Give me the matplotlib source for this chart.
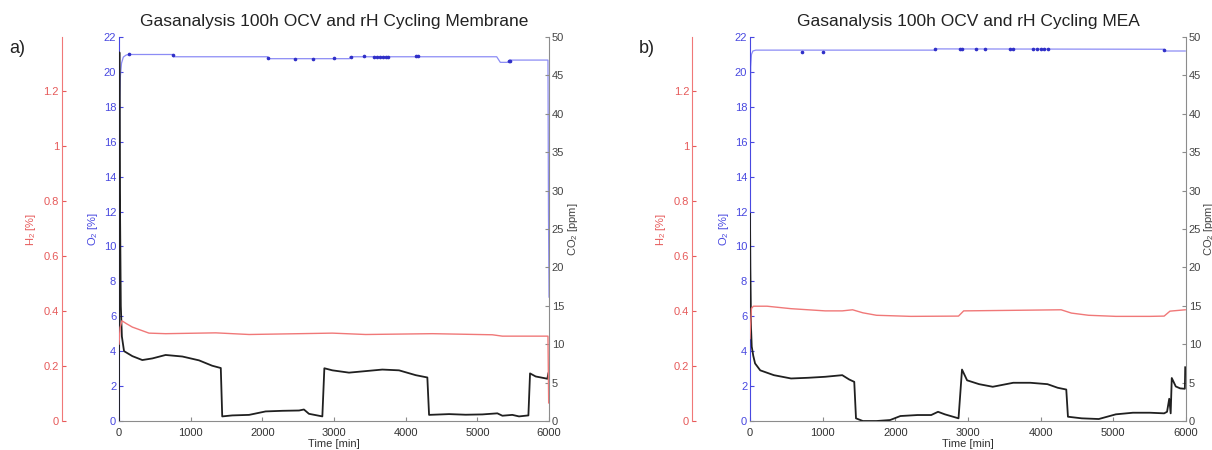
import numpy as np
import matplotlib
matplotlib.use('Agg')
import matplotlib.pyplot as plt

plt.rcParams['font.family'] = ['Liberation Sans', 'DejaVu Sans']
plt.rcParams['mathtext.default'] = 'regular'

# ---- panel a) membrane ----
a_title = 'Gasanalysis 100h OCV and rH Cycling Membrane'
a_o2_t = [0, 2, 5, 10, 20, 35, 60, 100, 140, 750, 760, 2075, 2085, 3215, 3225,
          5270, 5320, 5420, 5450, 5985, 5992, 6000]
a_o2_v = [0, 8, 15, 18.5, 19.8, 20.5, 20.85, 20.97, 21.0, 21.0, 20.87, 20.87, 20.76,
          20.76, 20.87, 20.87, 20.55, 20.55, 20.68, 20.68, 12, 7.1]
a_dot_t = [140, 760, 2085, 2450, 2700, 3000, 3230, 3420, 3560, 3600, 3640, 3680,
           3720, 3760, 4150, 4165, 5440, 5460]
a_dot_v = [21.0, 20.95, 20.8, 20.76, 20.76, 20.8, 20.87, 20.9, 20.87, 20.87, 20.87,
           20.87, 20.87, 20.87, 20.9, 20.9, 20.6, 20.6]
a_h2_t = [0, 15, 40, 100, 186, 418, 650, 1350, 1815, 2977, 3442, 4372, 5209, 5349,
          5985, 5995]
a_h2_v = [0.28, 0.34, 0.365, 0.355, 0.342, 0.320, 0.318, 0.321, 0.315, 0.320, 0.315,
          0.318, 0.314, 0.309, 0.309, 0.066]
a_co2_t = [0, 5, 12, 25, 40, 70, 186, 325, 465, 650, 884, 1116, 1300, 1420, 1440,
           1580, 1815, 2046, 2280, 2512, 2580, 2650, 2837, 2865, 2977, 3209, 3442,
           3674, 3907, 4140, 4302, 4326, 4605, 4837, 5070, 5279, 5349, 5488, 5581,
           5712, 5735, 5814, 5953, 5977, 5990]
a_co2_v = [0, 48, 30, 15, 11, 9.1, 8.45, 7.94, 8.15, 8.6, 8.4, 7.9, 7.2, 6.9, 0.6,
           0.73, 0.8, 1.25, 1.33, 1.37, 1.5, 0.94, 0.6, 6.87, 6.6, 6.3, 6.5, 6.7, 6.6,
           5.97, 5.67, 0.8, 0.9, 0.82, 0.86, 1.0, 0.69, 0.8, 0.6, 0.73, 6.2, 5.8, 5.55,
           5.5, 6.2]

# ---- panel b) MEA ----
b_title = 'Gasanalysis 100h OCV and rH Cycling MEA'
b_o2_t = [0, 2, 5, 10, 20, 40, 80, 2540, 2550, 5700, 5720, 5990]
b_o2_v = [0, 10, 17, 20.3, 21.0, 21.2, 21.25, 21.25, 21.32, 21.3, 21.2, 21.2]
b_dot_t = [716, 1005, 2546, 2890, 2920, 3110, 3240, 3580, 3620, 3900, 3950, 4000,
           4050, 4100, 5700]
b_dot_v = [21.17, 21.17, 21.3, 21.32, 21.32, 21.3, 21.3, 21.3, 21.3, 21.32, 21.32,
           21.32, 21.32, 21.32, 21.28]
b_h2_t = [0, 20, 47, 235, 565, 1035, 1270, 1412, 1553, 1741, 2212, 2870, 2941, 3623,
          4282, 4423, 4659, 5035, 5506, 5700, 5780, 5990]
b_h2_v = [0.30, 0.41, 0.418, 0.418, 0.409, 0.401, 0.401, 0.405, 0.394, 0.385, 0.381,
          0.382, 0.401, 0.403, 0.405, 0.393, 0.385, 0.381, 0.381, 0.382, 0.400, 0.405]
b_co2_t = [0, 5, 15, 24, 45, 70, 141, 329, 565, 800, 1035, 1270, 1365, 1435, 1459,
           1553, 1741, 1929, 2070, 2306, 2494, 2588, 2682, 2870, 2918, 2988, 3153,
           3341, 3623, 3859, 4094, 4235, 4353, 4376, 4565, 4800, 5035, 5270, 5506,
           5700, 5740, 5770, 5790, 5805, 5860, 5920, 5985, 5990]
b_co2_v = [27, 20, 12, 9.7, 8.5, 7.5, 6.6, 5.97, 5.54, 5.63, 5.76, 5.97, 5.41, 5.1,
           0.35, 0, 0, 0.13, 0.65, 0.78, 0.78, 1.2, 0.87, 0.35, 6.7, 5.3, 4.8, 4.46,
           4.98, 4.98, 4.8, 4.33, 4.1, 0.56, 0.35, 0.26, 0.87, 1.08, 1.08, 1.0, 1.2,
           2.9, 1.0, 5.6, 4.5, 4.25, 4.2, 7.0]

time_ticks = [0, 1000, 2000, 3000, 4000, 5000, 6000]
o2_ticks = list(range(0, 23, 2))
h2_ticks = [0, 0.2, 0.4, 0.6, 0.8, 1, 1.2]
h2_labels = ['0', '0.2', '0.4', '0.6', '0.8', '1', '1.2']
co2_ticks = list(range(0, 51, 5))

RED = '#e65a5a'
RED_LINE = '#f07878'
BLUE = '#4848e0'
BLUE_LINE = '#8c8cf5'
GREY = '#8c8c8c'
FS = 8


def draw_panel(ax, title, letter, o2_t, o2_v, dot_t, dot_v, h2_t, h2_v, co2_t, co2_v):
    axc = ax.twinx()
    axh = ax.twinx()

    ax.plot(o2_t, o2_v, color=BLUE_LINE, lw=0.9)
    ax.plot(dot_t, dot_v, ls='none', marker='o', ms=1.6, color='#3030c8')
    axh.plot(h2_t, h2_v, color=RED_LINE, lw=1.0)
    axc.plot(co2_t, co2_v, color='#202020', lw=1.3)

    ax.set_xlim(0, 6000)
    ax.set_ylim(0, 22)
    axc.set_ylim(0, 50)
    axh.set_ylim(0, 1.398)

    ax.set_xticks(time_ticks)
    ax.set_yticks(o2_ticks)
    axc.set_yticks(co2_ticks)
    axh.set_yticks(h2_ticks)
    axh.set_yticklabels(h2_labels)

    for a in (ax, axc, axh):
        a.spines['top'].set_visible(False)
    ax.spines['right'].set_visible(False)
    ax.spines['left'].set_color(BLUE)
    ax.spines['bottom'].set_color(GREY)
    axc.spines['left'].set_visible(False)
    axc.spines['bottom'].set_visible(False)
    axc.spines['right'].set_color(GREY)
    axh.spines['right'].set_visible(False)
    axh.spines['bottom'].set_visible(False)
    axh.spines['left'].set_visible(True)
    axh.spines['left'].set_position(('axes', -0.133))
    axh.spines['left'].set_color(RED_LINE)
    axh.yaxis.set_ticks_position('left')
    axh.yaxis.set_label_position('left')

    ax.tick_params(axis='x', direction='in', length=3, labelsize=FS, colors='#333333',
                   color=GREY, pad=5)
    ax.tick_params(axis='y', direction='in', length=3, labelsize=FS, colors=BLUE, pad=2)
    axc.tick_params(axis='y', direction='in', length=3, labelsize=FS, colors='#444444',
                    color=GREY, pad=2)
    axh.tick_params(axis='y', direction='in', length=3, labelsize=FS, colors=RED, pad=2)

    ax.set_xlabel('Time [min]', fontsize=8, color='#333333', labelpad=1)
    ax.set_ylabel('O$_2$ [%]', fontsize=8, color=BLUE, labelpad=3)
    axh.set_ylabel('H$_2$ [%]', fontsize=8, color=RED, labelpad=4)
    axc.set_ylabel('CO$_2$ [ppm]', fontsize=8, color='#444444', labelpad=1)
    ax.set_title(title, fontsize=12.5, color='#222222', pad=8)
    ax.text(-0.255, 0.97, letter, transform=ax.transAxes, fontsize=13,
            color='#222222', ha='left', va='center')


fig = plt.figure(figsize=(12.12, 4.5), dpi=100)
ax1 = fig.add_axes([0.0982, 0.0644, 0.3548, 0.8533])
ax2 = fig.add_axes([0.6188, 0.0644, 0.3597, 0.8533])

draw_panel(ax1, a_title, 'a)', a_o2_t, a_o2_v, a_dot_t, a_dot_v,
           a_h2_t, a_h2_v, a_co2_t, a_co2_v)
draw_panel(ax2, b_title, 'b)', b_o2_t, b_o2_v, b_dot_t, b_dot_v,
           b_h2_t, b_h2_v, b_co2_t, b_co2_v)

fig.savefig('out.png', dpi=100)
